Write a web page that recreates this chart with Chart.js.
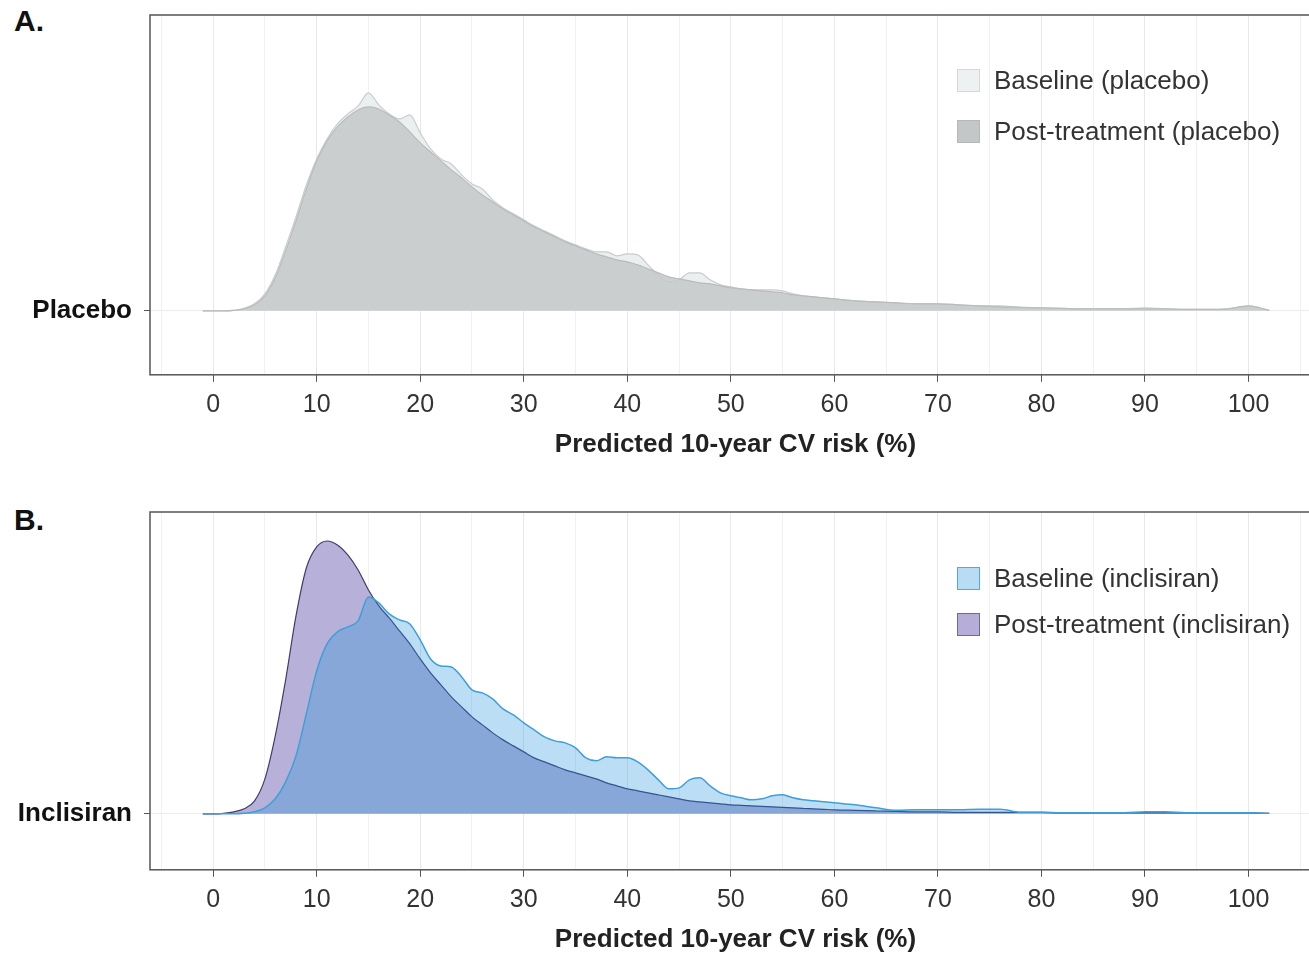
<!DOCTYPE html>
<html>
<head>
<meta charset="utf-8">
<script src="https://cdn.jsdelivr.net/npm/chart.js@4"></script>
<style>
  html, body { margin: 0; padding: 0; background: #fff; overflow: hidden; width: 1309px; height: 953px; }
  .wrap { position: absolute; left: 0; width: 1330px; }
  .panel-label { position: absolute; font: bold 30px "Liberation Sans", Arial, sans-serif; color: #111; }
  .leg { position: absolute; display: flex; align-items: center; height: 26px; font: 26px "Liberation Sans", Arial, sans-serif; color: #333; white-space: nowrap; }
  .leg .box { display: inline-block; width: 21px; height: 21px; border: 1px solid; margin-right: 14px; }
</style>
</head>
<body>
<div class="panel-label" style="left:14px;top:4px">A.</div>
<div class="panel-label" style="left:14px;top:503px">B.</div>

<div class="wrap" style="top:0;height:470px"><canvas id="chartA"></canvas></div>
<div class="wrap" style="top:497px;height:458px"><canvas id="chartB"></canvas></div>

<div class="leg" style="left:957px;top:67px"><span class="box" style="background:#eef1f1;border-color:#d5d8d8"></span>Baseline (placebo)</div>
<div class="leg" style="left:957px;top:118px"><span class="box" style="background:#c4c7c8;border-color:#b5b8b9"></span>Post-treatment (placebo)</div>
<div class="leg" style="left:957px;top:565px"><span class="box" style="background:#b7dcf4;border-color:#52a9de"></span>Baseline (inclisiran)</div>
<div class="leg" style="left:957px;top:611px"><span class="box" style="background:#b6aed8;border-color:#6d6a96"></span>Post-treatment (inclisiran)</div>

<script>
// risk values (%) where the density curves are sampled
const xs = [-1,0,1,2,3,4,5,6,7,8,9,10,11,12,13,14,15,16,17,18,19,20,21,22,23,24,25,26,27,28,29,30,
  31,32,33,34,35,36,37,38,39,40,41,42,43,44,45,46,47,48,49,50,51,52,53,54,55,56,57,58,59,60,
  62,64,66,68,70,72,74,76,78,80,82,84,86,88,90,92,94,96,98,100,102];

// relative density
const placeboBaseline = [0,0,0,0.5,2.5,7,17,36,64,94,126,152,172,187,197,205,218,206,197,192,196,178,162,152,147,136,127,122,111,103,97,91,
  85,80,75,70,66,62,59,59,55,57,56,46,36,29,31,38,38,31,26,24,22,21,21,21,20,17,15,14,13,12,
  10,9,8,7,7,6,5,5,3.5,3,2.5,2,2,2,3,2,1.5,1.5,2,5,0.5];
const placeboPost = [0,0,0,0.5,2,6,15,33,60,90,122,150,170,184,194,201,204,202,196,189,179,168,159,150,141,133,124,116,109,102,96,90,
  84,79,74,69,65,61,57,54,51,49,46,42,38,34,32,30,28,27,25,23,22,21,20,19,18,16,15,14,13,12,
  10,9,8,7,7,6,5,4,3.5,3,2.5,2,2,2,2,2,1.5,1.5,2,5,0.5];
const inclisiranBaseline = [0,0,0,0,0.5,2,6,15,32,58,100,143,170,182,187,193,217,211,200,194,190,174,155,148,147,137,124,121,115,105,99,91,
  84,77,73,71,66,56,53,57,56,56,52,44,34,25,26,34,36,28,21,18,16,14,15,18,19,16,14,13,12,11,
  9,6,3.5,4,4,4,4.5,4.5,1.5,1.5,1,1,1,1,2,2,1,1,1,1,0.5];
const inclisiranPost = [0,0,0.5,2,5,13,35,78,134,198,246,267,273,269,259,244,224,208,196,183,170,155,141,129,117,107,97,89,81,74,68,62,
  56,52,48,44,41,38,35,31,28,25,23,21,19,17,15,13,12,11,10,9,8.5,8,7.5,7,6.5,6,5.5,5,4.5,4,
  3.5,3,2.5,2,2,1.5,1.5,1.5,1.5,1.5,1,1,1,1,1,1,1,1,1,1,0.5];

const xTicks = [-5,0,5,10,15,20,25,30,35,40,45,50,55,60,65,70,75,80,85,90,95,100,105];

const font = "'Liberation Sans', Arial, sans-serif";

function pts(ys) {
  return xs.map((x, i) => ({ x: x, y: ys[i] }));
}

// box around the plot area
const framePlugin = {
  id: 'frame',
  afterDraw(chart) {
    const a = chart.chartArea;
    const ctx = chart.ctx;
    ctx.save();
    ctx.strokeStyle = '#555';
    ctx.lineWidth = 1.5;
    ctx.strokeRect(a.left, a.top, a.right - a.left, a.bottom - a.top);
    ctx.restore();
  }
};

function makeChart(id, datasets, yMin, yMax, rowName, padBottom) {
  new Chart(document.getElementById(id), {
    type: 'line',
    data: { datasets: datasets },
    options: {
      responsive: true,
      maintainAspectRatio: false,
      animation: false,
      layout: { padding: { top: 15, right: 9, left: 0, bottom: padBottom } },
      elements: { point: { radius: 0 }, line: { cubicInterpolationMode: 'monotone' } },
      plugins: { legend: { display: false }, tooltip: { enabled: false } },
      scales: {
        x: {
          type: 'linear',
          min: -6.1,
          max: 107,
          afterBuildTicks: (scale) => { scale.ticks = xTicks.map(v => ({ value: v })); },
          ticks: {
            padding: 8,
            color: '#333',
            font: { family: font, size: 25 },
            maxRotation: 0,
            autoSkip: false,
            callback: (v) => (v % 10 === 0 && v >= 0 && v <= 100) ? String(v) : ''
          },
          grid: {
            color: (c) => (c.tick && c.tick.value % 10 === 0) ? '#e8e8e8' : '#f1f1f1',
            tickColor: (c) => (c.tick && c.tick.value % 10 === 0 && c.tick.value >= 0 && c.tick.value <= 100) ? '#555' : 'rgba(0,0,0,0)',
            tickLength: 7
          },
          border: { display: false },
          title: {
            display: true,
            text: 'Predicted 10-year CV risk (%)',
            color: '#222',
            font: { family: font, size: 26, weight: 'bold' },
            padding: { top: 1, bottom: 0 }
          }
        },
        y: {
          min: yMin,
          max: yMax,
          afterBuildTicks: (scale) => { scale.ticks = [{ value: 0 }]; },
          afterFit: (scale) => {
            scale.width = 150;
            scale.paddingTop = 0;
            scale.paddingBottom = 0;
          },
          ticks: {
            padding: 12,
            color: '#111',
            font: { family: font, size: 26, weight: 'bold' },
            callback: () => rowName
          },
          grid: { color: '#ececec', tickColor: '#555', tickLength: 6 },
          border: { display: false }
        }
      }
    },
    plugins: [framePlugin]
  });
}

makeChart('chartA', [
  {
    label: 'Baseline (placebo)',
    data: pts(placeboBaseline),
    order: 2,
    fill: 'origin',
    backgroundColor: 'rgba(232,236,236,0.85)',
    borderColor: '#c9cdcd',
    borderWidth: 1.2
  },
  {
    label: 'Post-treatment (placebo)',
    data: pts(placeboPost),
    order: 1,
    fill: 'origin',
    backgroundColor: 'rgba(198,201,202,0.85)',
    borderColor: '#b9bcbd',
    borderWidth: 1.2
  }
], -64, 296, 'Placebo', 10);

makeChart('chartB', [
  {
    label: 'Baseline (inclisiran)',
    data: pts(inclisiranBaseline),
    fill: 'origin',
    backgroundColor: 'rgba(30,145,220,0.3)',
    borderColor: '#3f9fd8',
    borderWidth: 1.5
  },
  {
    label: 'Post-treatment (inclisiran)',
    data: pts(inclisiranPost),
    fill: 'origin',
    backgroundColor: 'rgb(183,176,216)',
    borderColor: '#3f3c70',
    borderWidth: 1.2
  }
], -56, 302, 'Inclisiran', 0);
</script>
</body>
</html>
